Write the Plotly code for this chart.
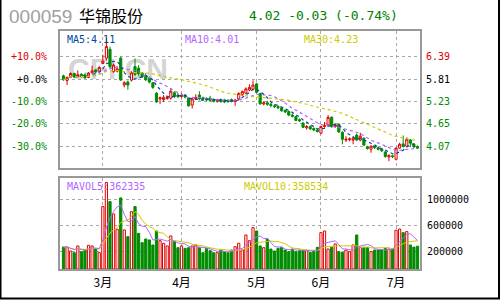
import plotly.graph_objects as go
import pandas as pd

# ---------------- data ----------------
opens = [5.90,5.78,5.88,5.96,5.88,5.94,5.92,5.86,5.98,6.05,
         6.02,6.22,6.36,6.59,6.01,6.02,6.36,5.66,5.74,5.79,
         6.14,6.10,5.97,5.90,5.84,5.72,5.45,5.30,5.28,5.31,
         5.32,5.46,5.40,5.36,5.40,5.32,5.14,5.30,5.40,5.33,
         5.31,5.32,5.28,5.24,5.28,5.27,5.26,5.28,5.23,5.30,
         5.41,5.45,5.53,5.55,5.69,5.44,5.17,5.20,5.16,5.12,
         5.10,5.07,5.00,4.97,4.88,4.84,4.76,4.67,4.55,4.58,
         4.53,4.49,4.41,4.58,4.62,4.82,4.58,4.64,4.43,4.23,
         4.24,4.23,4.36,4.23,4.28,4.05,3.99,4.08,4.03,3.99,
         3.92,3.79,3.82,3.73,4.02,4.13,4.07,4.23,4.12,4.06]
closes = [5.80,5.86,5.96,5.87,5.93,5.89,5.85,5.97,6.03,6.00,
          6.12,6.28,6.66,6.14,6.18,6.08,5.79,5.72,5.66,5.98,
          5.93,5.95,5.88,5.80,5.74,5.60,5.22,5.33,5.34,5.33,
          5.50,5.36,5.36,5.39,5.35,5.12,5.30,5.33,5.30,5.29,
          5.27,5.26,5.24,5.27,5.23,5.22,5.23,5.24,5.27,5.44,
          5.49,5.56,5.60,5.66,5.47,5.17,5.20,5.16,5.13,5.10,
          5.07,4.99,4.96,4.88,4.85,4.74,4.73,4.56,4.58,4.52,
          4.49,4.45,4.58,4.61,4.82,4.58,4.63,4.44,4.25,4.25,
          4.26,4.28,4.23,4.33,4.10,4.01,4.07,4.03,3.99,3.95,
          3.80,3.83,3.80,4.02,4.12,4.06,4.25,4.15,4.05,4.02]
highs = [5.93,5.88,5.99,5.98,6.04,5.97,5.96,6.00,6.16,6.08,
         6.15,6.45,6.88,6.66,6.22,6.14,6.40,5.76,5.78,6.02,
         6.35,6.18,6.00,5.96,5.88,5.74,5.48,5.36,5.40,5.38,
         5.58,5.50,5.46,5.45,5.42,5.34,5.34,5.42,5.50,5.36,
         5.34,5.38,5.31,5.30,5.31,5.30,5.29,5.31,5.30,5.47,
         5.52,5.60,5.68,5.78,5.72,5.46,5.24,5.25,5.20,5.16,
         5.13,5.09,5.03,4.99,4.92,4.86,4.79,4.70,4.62,4.61,
         4.56,4.52,4.60,4.70,4.88,4.85,4.66,4.66,4.46,4.33,
         4.30,4.32,4.40,4.42,4.30,4.08,4.09,4.10,4.05,4.01,
         3.94,3.86,3.85,4.04,4.16,4.35,4.30,4.26,4.15,4.09]
lows = [5.77,5.66,5.85,5.85,5.86,5.86,5.82,5.84,5.96,5.97,
        6.00,6.20,6.30,6.10,5.98,5.99,5.77,5.60,5.54,5.75,
        5.90,5.90,5.84,5.76,5.70,5.56,5.20,5.17,5.22,5.28,
        5.28,5.32,5.32,5.33,5.31,5.10,5.05,5.27,5.26,5.25,
        5.24,5.22,5.21,5.20,5.20,5.19,5.20,5.21,5.12,5.28,
        5.38,5.42,5.50,5.52,5.45,5.15,5.13,5.12,5.08,5.06,
        5.03,4.97,4.93,4.85,4.82,4.72,4.70,4.54,4.50,4.49,
        4.46,4.43,4.38,4.55,4.60,4.55,4.55,4.42,4.12,4.18,
        4.20,4.12,4.20,4.20,4.08,3.98,3.90,4.00,3.96,3.92,
        3.77,3.68,3.76,3.70,4.00,4.04,4.05,4.05,4.03,4.00]
volumes = [262000,262000,200000,174000,278000,190000,215000,288000,278000,241000,
           174000,887000,1259000,964000,773000,536000,1022000,526000,422000,809000,
           887000,474000,329000,386000,371000,293000,510000,360000,319000,278000,
           433000,345000,251000,278000,241000,251000,278000,293000,251000,174000,
           241000,205000,174000,174000,215000,190000,174000,215000,267000,319000,
           215000,448000,360000,561000,510000,278000,251000,386000,231000,200000,
           241000,257000,215000,190000,231000,190000,215000,215000,205000,179000,
           190000,257000,484000,510000,231000,257000,309000,190000,179000,215000,
           190000,293000,448000,257000,257000,257000,190000,215000,215000,215000,
           240000,230000,230000,520000,540000,484000,500000,293000,260000,275000]

month_idx = [11, 33, 54, 72, 93]
month_labels = ["3月", "4月", "5月", "6月", "7月"]
price_ticks = [6.39, 5.81, 5.23, 4.65, 4.07]
pct_labels = ["+10.0%", "+0.0%", "-10.0%", "-20.0%", "-30.0%"]
vol_ticks = [1000000, 600000, 200000]
vol_tick_labels = ["1000000", "600000", "200000"]
ma_labels = ["MA5:4.11", "MA10:4.01", "MA30:4.23"]
mavol_labels = ["MAVOL5:362335", "MAVOL10:358534"]
header_code = "000059"
header_name = "华锦股份"
header_quote = "4.02 -0.03 (-0.74%)"
watermark = "CFI.CN"

# ---------------- styling ----------------
RED = "#e00000"
GREEN = "#008c00"
C_MA5 = "#00479d"
C_MA10 = "#b266ff"
C_MA30 = "#cccc00"
GRID = "#a8a8a8"
FRAME = "#999999"
MONO = "DejaVu Sans Mono"

W, H = 500, 300
def px(x): return x / W
def py(y): return 1 - y / H

idx = list(range(len(closes)))
cs = pd.Series(closes)
vs = pd.Series(volumes)
ma5 = cs.rolling(5, min_periods=1).mean()
ma10 = cs.rolling(10, min_periods=1).mean()
ma30 = cs.rolling(30, min_periods=1).mean()
mv5 = vs.rolling(5, min_periods=1).mean()
mv10 = vs.rolling(10, min_periods=1).mean()

up = [c >= o for o, c in zip(opens, closes)]

XR = [-0.98, 99.7]
YR = [3.511, 7.066]
VR = [-78500, 1324900]

def col(i):
    return RED if i == 0 else ("black" if i == 1 else GREEN)

fig = go.Figure()

# moving averages of price (MA30 drawn on the overlaid percent axis, same range)
fig.add_trace(go.Scatter(x=idx, y=ma30, mode="lines", line=dict(color=C_MA30, width=1.2, dash="dot"),
                         xaxis="x", yaxis="y3", hoverinfo="skip"))
for s, c in [(ma10, C_MA10), (ma5, C_MA5)]:
    fig.add_trace(go.Scatter(x=idx, y=s, mode="lines", line=dict(color=c, width=1.2, dash="dot"),
                             xaxis="x", yaxis="y", hoverinfo="skip"))

fig.add_trace(go.Candlestick(
    x=idx, open=opens, high=highs, low=lows, close=closes,
    increasing=dict(line=dict(color=RED, width=1), fillcolor="white"),
    decreasing=dict(line=dict(color=GREEN, width=1), fillcolor=GREEN),
    whiskerwidth=0, xaxis="x", yaxis="y"))

# volume
fig.add_trace(go.Bar(
    x=idx, y=[v - VR[0] for v in volumes], base=VR[0], width=0.62,
    marker=dict(color=["white" if u else GREEN for u in up],
                line=dict(color=[RED if u else GREEN for u in up], width=1)),
    xaxis="x2", yaxis="y2"))
fig.add_trace(go.Scatter(x=idx, y=mv10, mode="lines", line=dict(color=C_MA30, width=1),
                         xaxis="x2", yaxis="y2", hoverinfo="skip"))
fig.add_trace(go.Scatter(x=idx, y=mv5, mode="lines", line=dict(color=C_MA10, width=1),
                         xaxis="x2", yaxis="y2", hoverinfo="skip"))

axis_common = dict(showline=True, linecolor=FRAME, linewidth=2, mirror=True,
                   zeroline=False, gridcolor=GRID, griddash="dot", gridwidth=1)

fig.update_layout(
    width=W, height=H, margin=dict(l=0, r=0, t=0, b=0),
    paper_bgcolor="white", plot_bgcolor="white", showlegend=False,
    boxgap=0.15,
    xaxis=dict(domain=[px(60), px(420)], range=XR, anchor="y",
               tickvals=month_idx, showticklabels=False, ticks="",
               rangeslider=dict(visible=False), showgrid=True, **axis_common),
    yaxis=dict(domain=[py(167.7), py(31)], range=YR, side="right", anchor="x",
               tickvals=price_ticks,
               ticktext=[f'<span style="color:{col(i)}">{p:.2f}</span>' for i, p in enumerate(price_ticks)],
               ticks="", ticklabelstandoff=2, showgrid=True,
               tickfont=dict(family=MONO, size=10), **axis_common),
    yaxis3=dict(overlaying="y", range=YR, side="left", anchor="x",
                tickvals=price_ticks,
                ticktext=[f'<span style="color:{col(i)}">{t}</span>' for i, t in enumerate(pct_labels)],
                ticks="", ticklabelstandoff=12, showgrid=False, showline=False, zeroline=False,
                tickfont=dict(family=MONO, size=10)),
    xaxis2=dict(domain=[px(60), px(420)], range=XR, anchor="y2",
                tickvals=month_idx, ticktext=month_labels, ticks="", ticklabelstandoff=2,
                tickfont=dict(family="Noto Sans CJK SC", size=12, color="black"),
                showgrid=True, **axis_common),
    yaxis2=dict(domain=[py(269), py(178.3)], range=VR, side="right", anchor="x2",
                tickvals=vol_ticks, ticktext=vol_tick_labels, ticks="", ticklabelstandoff=3,
                tickfont=dict(family=MONO, size=10, color="black"),
                showgrid=True, **axis_common),
)

# watermark (below traces)
fig.add_shape(type="rect", xref="paper", yref="paper", x0=px(66), x1=px(170), y0=py(78), y1=py(52),
              line=dict(width=0), fillcolor="rgba(0,0,0,0)", layer="below",
              label=dict(text=watermark, font=dict(family="Liberation Sans", size=30, color="#d4d4d4", weight="bold"),
                         textposition="middle center"))

# outer frame (left, right, bottom)
for x0, y0, x1, y1 in [(0.5, 0, 0.5, 299), (499, 0, 499, 299), (0, 298.5, 500, 298.5)]:
    fig.add_shape(type="line", xref="paper", yref="paper", x0=px(x0), x1=px(x1), y0=py(y0), y1=py(y1),
                  line=dict(color="black", width=2))

ann = []
ann.append(dict(text=header_code, x=px(7), y=py(16), font=dict(family="Liberation Sans", size=19, color="#a0a0a0")))
ann.append(dict(text=header_name, x=px(77), y=py(15), font=dict(family="Noto Sans CJK SC", size=16, color="black")))
ann.append(dict(text=header_quote, x=px(247), y=py(15), font=dict(family=MONO, size=13, color="#008000")))
for t, x, c in zip(ma_labels, [65, 183, 302], [C_MA5, C_MA10, C_MA30]):
    ann.append(dict(text=t, x=px(x), y=py(39), font=dict(family=MONO, size=10, color=c)))
for t, x, c in zip(mavol_labels, [65, 242], [C_MA10, C_MA30]):
    ann.append(dict(text=t, x=px(x), y=py(186), font=dict(family=MONO, size=10, color=c)))
for a in ann:
    a.update(xref="paper", yref="paper", xanchor="left", yanchor="middle", showarrow=False)
    fig.add_annotation(**a)

fig.write_html("out.html")
